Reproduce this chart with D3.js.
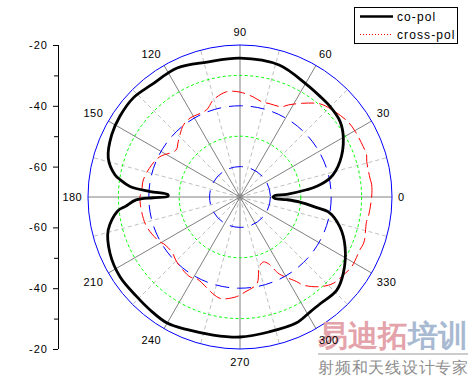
<!DOCTYPE html>
<html>
<head>
<meta charset="utf-8">
<script src="https://cdn.jsdelivr.net/npm/d3@7"></script>
<style>
  html, body { margin: 0; padding: 0; background: #fff; }
  svg { display: block; }
  text { font-family: "Liberation Sans", Arial, sans-serif; }
</style>
</head>
<body>
<svg id="chart" width="472" height="377"></svg>
<script>
// ---- data (angle in degrees, value in dB) ----
const coAngles = [0, 2.5, 3.3, 6.2, 7.9, 11.9, 19.6, 29.6, 37.1, 45.2, 51.5, 59.3, 73.5, 90, 103.7, 116, 128.2, 137.1, 146.1, 154.1, 163.5, 169.9, 171.8, 174.5, 176.5, 178.2, 179.5, 180.5, 181.6, 184.7, 186.5, 194.1, 203.4, 213.6, 224, 231.5, 240, 248, 259, 270, 282, 294, 301.3, 306.9, 316, 323.4, 334.5, 343.3, 350.4, 352.1, 355.2, 356.7, 357.5];
const coValues = [-59.1, -58.5, -54.6, -48.0, -44.5, -39.7, -35.1, -30.9, -28.75, -28.0, -27.7, -27.0, -24.7, -24.3, -24.3, -22.8, -23.0, -22.1, -22.4, -23.1, -24.8, -28.2, -30.2, -33.65, -40.4, -46.3, -46.3, -41.4, -35.8, -32.2, -29.5, -25.3, -23.4, -22.6, -22.8, -22.5, -22.1, -23.0, -23.75, -23.95, -24.6, -24.6, -25.7, -26.1, -25.8, -27.7, -31.7, -35.7, -40.5, -44.5, -50.2, -54.6, -58.5];

const crossAngles = [0, 5.3, 8.3, 15.7, 18.5, 22.3, 29.7, 34.7, 43, 49.3, 56.2, 62.3, 65.2, 72, 77.6, 82.5, 90, 97.2, 105.4, 111, 122.4, 128.2, 138.1, 143.7, 153.3, 160, 170, 176.9, 180, 188.7, 197.8, 209.4, 211.3, 218.8, 225.8, 238, 242, 255.7, 259.8, 268, 273, 281, 285.4, 289.7, 293, 295, 297, 303.8, 305.7, 311.7, 317.2, 323, 328, 336.2, 340, 349, 351.3];
const crossValues = [-26.7, -26.5, -26.8, -26.7, -26.1, -26.2, -26.4, -26.7, -28.2, -29.6, -32.9, -35.8, -37.3, -37.8, -37.8, -36.8, -35.5, -35.1, -36.9, -39.3, -39.3, -39.9, -42.7, -43.9, -40.5, -39.1, -37.7, -37.6, -37.1, -37.3, -37.8, -39.8, -40.5, -41.2, -40.2, -39.0, -39.6, -36.6, -36.0, -37.2, -38.7, -40.9, -46.1, -47.3, -46.2, -44.1, -41.6, -36.5, -34.3, -30.5, -28.2, -27.4, -26.7, -26.9, -26.6, -27.6, -27.3];

const angleTicks = [0, 30, 60, 90, 120, 150, 180, 210, 240, 270, 300, 330];
const minorAngleTicks = [15, 45, 75, 105, 135, 165, 195, 225, 255, 285, 315, 345];
const radialMajorTicks = [-60, -40, -20];
const radialMinorTicks = [-50, -30];
const blueRings = [-60, -40];
const greenRings = [-50, -30];
const seriesNames = ["co-pol", "cross-pol"];

// ---- layout ----
const cx = 240, cy = 197, R = 152;
const svg = d3.select("#chart");
const r = d3.scaleLinear().domain([-70, -20]).range([0, R]);
const toRad = d => (90 - d) * Math.PI / 180; // math angle -> d3 radial angle
const px = (deg, rad) => [cx + rad * Math.cos(deg * Math.PI / 180), cy - rad * Math.sin(deg * Math.PI / 180)];

const g = svg.append("g").attr("transform", `translate(${cx},${cy})`);

// radial grid lines
g.selectAll("line.minor").data(minorAngleTicks).enter().append("line")
  .attr("x1", 0).attr("y1", 0)
  .attr("x2", d => R * Math.cos(d * Math.PI / 180))
  .attr("y2", d => -R * Math.sin(d * Math.PI / 180))
  .attr("stroke", "#c0c0c0").attr("stroke-width", 1).attr("stroke-dasharray", "4,3");
g.selectAll("line.major").data(angleTicks).enter().append("line")
  .attr("x1", 0).attr("y1", 0)
  .attr("x2", d => R * Math.cos(d * Math.PI / 180))
  .attr("y2", d => -R * Math.sin(d * Math.PI / 180))
  .attr("stroke", "#808080").attr("stroke-width", 1);

// rings
g.selectAll("circle.green").data(greenRings).enter().append("circle")
  .attr("r", d => r(d)).attr("fill", "none")
  .attr("stroke", "#00ff00").attr("stroke-width", 1).attr("stroke-dasharray", "3,2.5");
g.selectAll("circle.blue").data(blueRings).enter().append("circle")
  .attr("r", d => r(d)).attr("fill", "none")
  .attr("stroke", "#0000ff").attr("stroke-width", 1).attr("stroke-dasharray", "14,8");
g.append("circle").attr("r", r(-20)).attr("fill", "none")
  .attr("stroke", "#0000ff").attr("stroke-width", 1);

// series
const line = d3.lineRadial()
  .angle(d => toRad(d.a))
  .radius(d => r(d.v))
  .curve(d3.curveCatmullRomClosed.alpha(0.5));

const crossData = crossAngles.map((a, i) => ({ a, v: crossValues[i] }));
const coData = coAngles.map((a, i) => ({ a, v: coValues[i] }));

g.append("path").datum(crossData).attr("d", line)
  .attr("fill", "none").attr("stroke", "#ff0000").attr("stroke-width", 1)
  .attr("stroke-dasharray", "13,5");
g.append("path").datum(coData).attr("d", line)
  .attr("fill", "none").attr("stroke", "#000").attr("stroke-width", 2.8)
  .attr("stroke-linejoin", "round");

// watermark (drawn before labels so "300" sits on top)
const wm = svg.append("g").attr("font-family", "Noto Sans CJK SC, sans-serif");
const big = wm.append("text").attr("x", 318).attr("y", 346).attr("font-size", 30).attr("font-weight", 700);
big.append("tspan").attr("fill", "#e4a3aa").text("易迪拓");
big.append("tspan").attr("fill", "#a8b9d2").text("培训");
wm.append("line").attr("x1", 318).attr("x2", 468).attr("y1", 354).attr("y2", 354)
  .attr("stroke", "#cccccc").attr("stroke-width", 2);
wm.append("text").attr("x", 318).attr("y", 373).attr("font-size", 16).attr("fill", "#8e8e8e")
  .attr("textLength", 150).attr("lengthAdjust", "spacing").text("射频和天线设计专家");

// angular labels
const labR = 158;
angleTicks.forEach(a => {
  const [x, y] = px(a, labR);
  const s = Math.sin(a * Math.PI / 180), c = Math.cos(a * Math.PI / 180);
  let anchor = Math.abs(c) < 0.2 ? "middle" : (c > 0 ? "start" : "end");
  let by;
  if (Math.abs(s) < 0.1) by = y + 4;
  else if (s > 0) by = y - 3 * s;
  else by = y + 8 + 3 * Math.abs(s);
  svg.append("text").attr("x", x).attr("y", by)
    .attr("text-anchor", anchor).attr("font-size", 11).attr("letter-spacing", 0.4)
    .attr("fill", "#000").text(a);
});

// left radial axis (mirrored)
const axX = 58;
const yTop = d3.scaleLinear().domain([-70, -20]).range([cy, cy - R]);
const yBot = d3.scaleLinear().domain([-70, -20]).range([cy, cy + R]);
[yTop, yBot].forEach(sc => {
  const ax = svg.append("g").attr("transform", `translate(${axX},0)`)
    .call(d3.axisLeft(sc).tickValues(radialMajorTicks).tickSize(5).tickPadding(5).tickSizeOuter(0)
      .tickFormat(d => d));
  ax.select(".domain").remove();
  ax.selectAll("text").attr("font-size", 11).attr("letter-spacing", 1)
    .attr("font-family", "Liberation Sans, Arial, sans-serif");
  const mx = svg.append("g").attr("transform", `translate(${axX},0)`)
    .call(d3.axisLeft(sc).tickValues(radialMinorTicks).tickSize(4).tickFormat("").tickSizeOuter(0));
  mx.select(".domain").remove();
});
svg.append("line").attr("x1", axX + 0.5).attr("x2", axX + 0.5)
  .attr("y1", yTop(-20)).attr("y2", yBot(-20)).attr("stroke", "#000");

// legend
const lg = svg.append("g");
lg.append("rect").attr("x", 354.5).attr("y", 7.5).attr("width", 103).attr("height", 36)
  .attr("fill", "#fff").attr("stroke", "#000");
lg.append("line").attr("x1", 360).attr("x2", 393).attr("y1", 16.5).attr("y2", 16.5)
  .attr("stroke", "#000").attr("stroke-width", 2.5);
lg.append("line").attr("x1", 360).attr("x2", 393).attr("y1", 34.5).attr("y2", 34.5)
  .attr("stroke", "#ff0000").attr("stroke-width", 1).attr("stroke-dasharray", "1,2");
lg.append("text").attr("x", 397).attr("y", 21).attr("font-size", 12).attr("letter-spacing", 1.1).text(seriesNames[0]);
lg.append("text").attr("x", 397).attr("y", 39).attr("font-size", 12).attr("letter-spacing", 1.1).text(seriesNames[1]);
</script>
</body>
</html>
